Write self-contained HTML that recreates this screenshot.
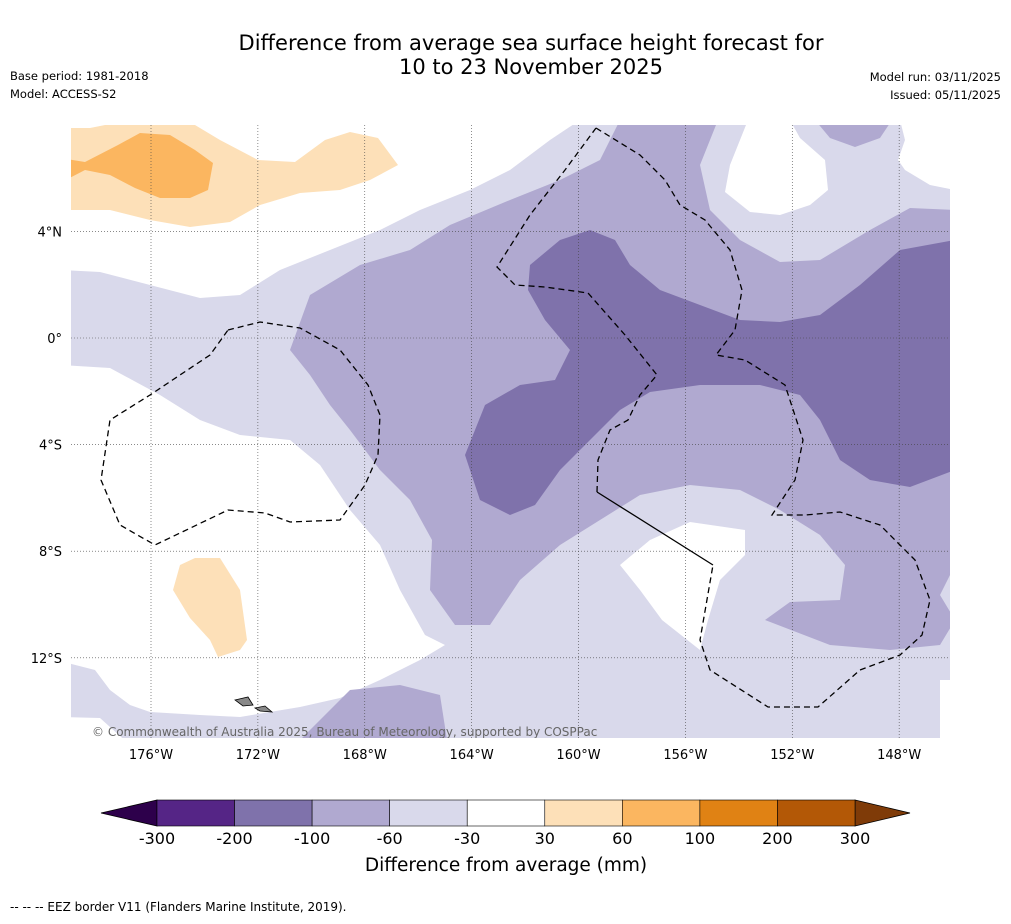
<!DOCTYPE html>
<html><head><meta charset="utf-8"><style>
body{margin:0;background:#fff;width:1011px;height:919px;overflow:hidden;font-family:"Liberation Sans",sans-serif;}
svg text{font-family:"DejaVu Sans","Liberation Sans",sans-serif;}
</style></head><body>
<svg id="chart" width="1011" height="919" xmlns="http://www.w3.org/2000/svg">
<text x="531" y="50" font-size="21" text-anchor="middle">Difference from average sea surface height forecast for</text>
<text x="531" y="74" font-size="21" text-anchor="middle">10 to 23 November 2025</text>
<text x="10" y="80" font-size="11.5">Base period: 1981-2018</text>
<text x="10" y="98" font-size="11.5">Model: ACCESS-S2</text>
<text x="1001" y="81" font-size="11.5" text-anchor="end">Model run: 03/11/2025</text>
<text x="1001" y="99" font-size="11.5" text-anchor="end">Issued: 05/11/2025</text>
<defs><clipPath id="mc"><rect x="71" y="125" width="879" height="613"/></clipPath></defs>
<g clip-path="url(#mc)">
<rect x="71" y="125" width="879" height="613" fill="#d9d9eb"/>
<path fill="#fff" d="M60,120 L60,270 L100,272 L150,285 L200,298 L240,295 L280,270 L330,250 L380,230 L420,210 L470,190 L510,170 L550,140 L580,120 Z"/>
<path fill="#fff" d="M60,365 L110,368 L160,395 L200,420 L240,435 L290,440 L320,465 L350,510 L380,545 L400,590 L425,635 L445,645 L420,660 L380,680 L340,698 L300,707 L240,717 L200,715 L150,712 L130,705 L110,690 L95,670 L60,661 Z"/>
<path fill="#fff" d="M60,717 L100,718 L130,745 L60,745 Z"/>
<path fill="#fff" d="M620,565 L650,540 L690,522 L745,530 L745,555 L720,580 L708,620 L700,650 L662,620 L640,590 Z"/>
<path fill="#fff" d="M748,120 L790,120 L800,138 L825,160 L828,190 L810,205 L780,215 L750,212 L725,192 L730,165 Z"/>
<path fill="#fff" d="M900,120 L955,120 L955,190 L930,185 L905,170 L898,160 L905,140 Z"/>
<path fill="#fff" d="M940,680 L955,680 L955,740 L940,740 Z"/>
<path fill="#b0a9d0" d="M290,350 L310,295 L360,265 L410,250 L450,225 L510,200 L560,180 L600,160 L620,120 L718,120 L700,165 L710,210 L740,240 L780,262 L820,260 L870,230 L910,208 L955,210 L955,565 L940,595 L955,620 L940,645 L890,650 L830,645 L765,620 L790,602 L840,600 L845,565 L820,535 L780,510 L740,490 L690,485 L640,495 L600,520 L560,545 L520,580 L490,625 L455,625 L430,590 L432,540 L410,500 L380,470 L350,430 L330,405 L310,375 Z"/>
<path fill="#b0a9d0" d="M300,740 L350,690 L400,685 L440,695 L447,740 Z"/>
<path fill="#b0a9d0" d="M815,120 L892,120 L880,138 L855,147 L830,138 Z"/>
<path fill="#7f72ab" d="M530,265 L560,240 L590,230 L615,240 L630,265 L660,290 L700,305 L740,320 L780,322 L820,315 L860,285 L900,250 L955,240 L955,470 L910,487 L870,480 L840,460 L820,420 L800,395 L760,385 L700,385 L650,392 L620,410 L590,440 L560,470 L535,505 L510,515 L480,500 L465,455 L485,405 L520,385 L555,380 L570,350 L545,320 L528,290 Z"/>
<path fill="#fde0b8" d="M60,128 L90,128 L120,122 L190,122 L220,140 L258,160 L295,162 L325,140 L350,132 L378,138 L398,165 L370,180 L340,190 L300,193 L260,205 L230,222 L190,227 L150,220 L110,210 L60,210 Z"/>
<path fill="#fbb660" d="M60,158 L85,162 L118,145 L140,133 L170,135 L195,150 L213,163 L208,190 L190,198 L160,198 L135,188 L110,175 L85,170 L60,183 Z"/>
<path fill="#fde0b8" d="M180,565 L195,558 L220,558 L240,590 L247,640 L240,650 L218,657 L210,640 L190,618 L173,590 Z"/>
<path fill="none" stroke="#000" stroke-width="1.3" stroke-dasharray="6,4" d="M596,128 L640,155 L665,180 L680,205 L705,220 L730,250 L742,290 L735,330 L716,355 L745,360 L785,385 L803,440 L795,480 L772,515 L805,515 L840,512 L880,525 L915,560 L930,600 L922,635 L900,655 L860,670 L818,707 L768,707 L710,670 L700,640 L713,565"/>
<path fill="none" stroke="#000" stroke-width="1.3" d="M713,565 L597,492"/>
<path fill="none" stroke="#000" stroke-width="1.3" stroke-dasharray="6,4" d="M597,492 L598,460 L610,430 L628,420 L640,395 L657,375 L625,335 L588,293 L545,287 L515,285 L497,267 L530,215 L565,170 L596,128"/>
<path fill="none" stroke="#000" stroke-width="1.3" stroke-dasharray="6,4" d="M228,330 L260,322 L300,328 L340,350 L368,385 L380,415 L378,455 L365,485 L340,520 L290,522 L265,513 L228,510 L155,545 L120,525 L101,480 L110,420 L150,395 L210,355 Z"/>
<path fill="#888" stroke="#000" stroke-width="0.8" d="M235,700 L248,697 L253,705 L243,706 Z M255,708 L265,706 L272,712 L260,711 Z"/>
<g id="grid"></g>
<text x="92" y="736" font-size="12" fill="#666">© Commonwealth of Australia 2025, Bureau of Meteorology, supported by COSPPac</text>
</g>
<g id="axes"></g>
<g id="cbar"></g>
<text x="506" y="871" font-size="18.5" text-anchor="middle">Difference from average (mm)</text>
<text x="10" y="911" font-size="12">--  --  -- EEZ border V11 (Flanders Marine Institute, 2019).</text>
</svg>
<script>
const lonTicks=[-176,-172,-168,-164,-160,-156,-152,-148];
const latTicks=[4,0,-4,-8,-12];
const cbLevels=[-300,-200,-100,-60,-30,30,60,100,200,300];
const cbColors=["#552586","#7f72ab","#b0a9d0","#d9d9eb","#ffffff","#fde0b8","#fbb660","#e08214","#b35806"];
const lowExtColor="#2d004b", highExtColor="#7f3b08";
const NS="http://www.w3.org/2000/svg";
const lonX=l=>151+(l+176)*26.72;
const latY=l=>338-l*26.65;
function mk(t,a,p){const e=document.createElementNS(NS,t);for(const k in a)e.setAttribute(k,a[k]);p.appendChild(e);return e;}
const grid=document.getElementById('grid'),axes=document.getElementById('axes'),cb=document.getElementById('cbar');
lonTicks.forEach(l=>{
 const x=lonX(l);
 const g=mk('line',{x1:x,x2:x,y1:125,y2:738,stroke:'#444','stroke-width':0.6,'stroke-dasharray':'1,2'},grid);
 
 
 const t=mk('text',{x:x,y:759,'font-size':13,'text-anchor':'middle'},axes);t.textContent=Math.abs(l)+'°W';
 
 
});
latTicks.forEach(l=>{
 const y=latY(l);
 const g=mk('line',{x1:71,x2:950,y1:y,y2:y,stroke:'#444','stroke-width':0.6,'stroke-dasharray':'1,2'},grid);
 
 
 const t=mk('text',{x:62,y:y+5,'font-size':13,'text-anchor':'end'},axes);t.textContent=l===0?'0°':Math.abs(l)+'°'+(l>0?'N':'S');
 
 
});
const cx0=157,cx1=855,cy=800,ch=26,n=cbColors.length,w=(cx1-cx0)/n;
const lo=mk('polygon',{points:`${cx0},${cy} ${cx0},${cy+ch} 101,${cy+ch/2}`,fill:lowExtColor,stroke:'#000','stroke-width':0.8},cb);


const hi=mk('polygon',{points:`${cx1},${cy} ${cx1},${cy+ch} 910,${cy+ch/2}`,fill:highExtColor,stroke:'#000','stroke-width':0.8},cb);


cbColors.forEach((c,i)=>{
 const r=mk('rect',{x:cx0+i*w,y:cy,width:w,height:ch,fill:c,stroke:'#000','stroke-width':0.6},cb);
 
 
});
cbLevels.forEach((v,i)=>{
 const t=mk('text',{x:cx0+i*w,y:844,'font-size':16,'text-anchor':'middle'},cb);t.textContent=v;
 
 
});
</script>
</body></html>
